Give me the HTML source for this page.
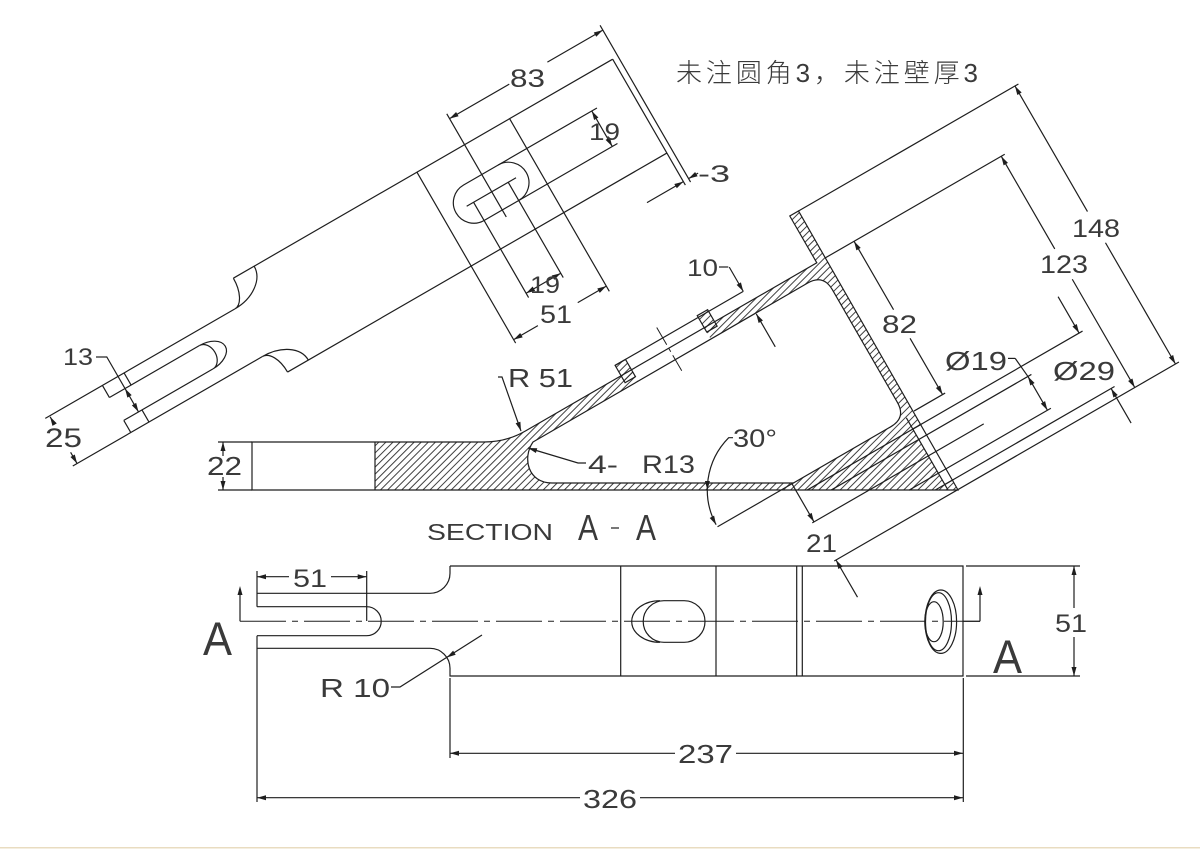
<!DOCTYPE html>
<html><head><meta charset="utf-8"><style>
html,body{margin:0;padding:0;background:#fff;width:1200px;height:850px;overflow:hidden;position:relative;}
svg{display:block;position:absolute;left:0;top:0;overflow:hidden;}
text{font-family:"Liberation Sans","DejaVu Sans",sans-serif;fill:#3a3a3a;}
</style></head><body><svg width="1200" height="850" viewBox="0 0 1200 850" xmlns="http://www.w3.org/2000/svg">
<defs>
<pattern id="h" patternUnits="userSpaceOnUse" width="5" height="5" patternTransform="rotate(45)">
<line x1="0.5" y1="0" x2="0.5" y2="5" stroke="#2a2a2a" stroke-width="0.9"/>
</pattern>
<pattern id="h2" patternUnits="userSpaceOnUse" width="5" height="5" patternTransform="rotate(75)">
<line x1="0.5" y1="0" x2="0.5" y2="5" stroke="#2a2a2a" stroke-width="0.9"/>
</pattern>
</defs>
<rect x="0" y="0" width="1200" height="850" fill="#fff"/>

<path d="M375 442 L484 442 Q506.4 442 525.4 431 L816.8 262.8 L789.8 216 L798.5 211 L958 490 L375 490 Z M533 442 L807.7 283 Q823.3 274 832.3 289.6 L897.3 402.2 Q906.3 417.8 890.7 426.8 L793.4 483 L552 483 C528 483 522 458 533 442 Z M631.5 369.8 L704.2 327.8 L710.7 339 L638 381 Z" fill="url(#h)" fill-rule="evenodd" stroke="none"/>

<!-- section rotated features -->
<g transform="matrix(0.866 -0.5 0.5 0.866 0 0)" fill="none" stroke="#1e1e1e" stroke-width="1.2">
  <rect x="576" y="828" width="10" height="64" fill="#fff" stroke="none"/>
  <rect x="350" y="624" width="12" height="20" fill="url(#h2)"/>
  <rect x="446" y="622" width="12" height="19" fill="url(#h2)"/>
  <path d="M576 815 L576 898 M576 828 L586 828 M576 892 L586 892"/>
  <path d="M350 624 L498 624"/>
  <path d="M405 612 L405 662" stroke-dasharray="20 4 4 4" stroke-width="1"/>
  <path d="M586 582 L840 582 M586 636 L793 636 M586 813 L622 813 M454 828 L772 828 M475 840 L706 840 M442 859 L640 859 M542 879 L706 879 M565 892 L772 892 M442 903 L840 903 M358 815 L446 815"/>
  <path d="M498 596 L498 624 M498 650 L498 688 M619 636 L619 715 M619 748 L619 813 M789 636 L789 743 M789 778 L789 903 M836 582 L836 727 M836 763 L836 903 M702 840 L702 879 M702 840 L700 818 M768 786 L768 828 M768 892 L768 932 M444 815 L444 859 M444 903 L444 946"/>
</g>

<!-- top view rotated features -->
<g transform="matrix(0.866 -0.5 0.5 0.866 0 0)" fill="none" stroke="#1e1e1e" stroke-width="1.2">
  <path d="M63 357.6 L501 357.6 M63 466 L501 466 M501 357.6 L501 503 M507 322 L507 503"/>
  <path d="M275 357.6 L275 555 M382 357.6 L382 557 M330 322 L330 441"/>
  <path d="M63 357.6 C63 372.7 56.7 385 49 385 M87 357.6 C87 372.7 69.9 385 49 385 M63 466 C63 450.9 56.7 440 49 440 M87 466 C87 450.9 69.9 440 49 440"/>
  <path d="M-170 385 L49 385 M-170 440 L49 440 M-104 385 L-104 399 M-79 385 L-79 399 M-104 399 L0 399 M-103 426 L-103 440 M-82 426 L-82 440 M-103 426 L0 426"/>
  <path d="M0 399 A22 13.5 0 0 1 0 426 M0 399 A10 13.5 0 0 1 0 426"/>
  <rect x="288.5" y="392" width="81" height="41" rx="20.5"/>
  <path d="M301 412 L358 412 M309 412 L309 522 M349 412 L349 522 M349 392 L463 392 M349 433 L463 433"/>
  <path d="M330 327.5 L399 327.5 M443 327.5 L507 327.5 M457 392 L457 433 M309 517 L349 517 M275 551 L303 551 M349 551 L382 551 M459 499 L501 499 M507 499 L518 499 M-86 362 L-86 426 M-165 386 L-165 395 M-165 427 L-165 440"/>
</g>

<!-- top view arrows -->
<g transform="matrix(0.866 -0.5 0.5 0.866 0 0)" fill="#1e1e1e" stroke="none">
  <polygon points="330,327.5 339,325 339,330"/>
  <polygon points="507,327.5 498,325 498,330"/>
  <polygon points="457,392 454.5,401 459.5,401"/>
  <polygon points="457,433 454.5,424 459.5,424"/>
  <polygon points="309,517 318,514.5 318,519.5"/>
  <polygon points="349,517 340,514.5 340,519.5"/>
  <polygon points="275,551 284,548.5 284,553.5"/>
  <polygon points="382,551 373,548.5 373,553.5"/>
  <polygon points="501,499 492,496.5 492,501.5"/>
  <polygon points="507,499 516,496.5 516,501.5"/>
  <polygon points="-86,399 -88.5,408 -83.5,408"/>
  <polygon points="-86,426 -88.5,417 -83.5,417"/>
  <polygon points="-165,386 -167.5,395 -162.5,395"/>
  <polygon points="-165,440 -167.5,431 -162.5,431"/>
</g>

<!-- section arrows -->
<g transform="matrix(0.866 -0.5 0.5 0.866 0 0)" fill="#1e1e1e" stroke="none">
  <polygon points="498,624 495.5,615 500.5,615"/>
  <polygon points="498,650 495.5,659 500.5,659"/>
  <polygon points="619,636 616.5,645 621.5,645"/>
  <polygon points="619,813 616.5,804 621.5,804"/>
  <polygon points="789,636 786.5,645 791.5,645"/>
  <polygon points="789,903 786.5,894 791.5,894"/>
  <polygon points="836,582 833.5,591 838.5,591"/>
  <polygon points="836,903 833.5,894 838.5,894"/>
  <polygon points="702,840 699.5,849 704.5,849"/>
  <polygon points="702,879 699.5,870 704.5,870"/>
  <polygon points="768,828 765.5,819 770.5,819"/>
  <polygon points="768,892 765.5,901 770.5,901"/>
  <polygon points="444,859 441.5,850 446.5,850"/>
  <polygon points="444,903 441.5,912 446.5,912"/>
</g>

<g fill="none" stroke="#1e1e1e" stroke-width="1.2">
  <path d="M252 442 L484 442 Q506.4 442 525.4 431 L816.8 262.8 L789.8 216 L798.5 211 L958 490 L252 490 Z M375 442 L375 490"/>
  <path d="M533 442 L807.7 283 Q823.3 274 832.3 289.6 L897.3 402.2 Q906.3 417.8 890.7 426.8 L793.4 483 L552 483 C528 483 522 458 533 442 Z"/>
  <path d="M218 442 L252 442 M218 490 L252 490 M223 442 L223 456 M223 477 L223 490"/>
  <path d="M498 377 L502 377 L521 431"/>
  <path d="M586 463 L578 463 L528 448"/>
  <path d="M733 437.7 L728.7 437.7 A74 74 0 0 0 716.1 524.7"/>
  <path d="M719 267 L728.3 267"/>
  <path d="M1008 358.4 L1015.2 358.4"/>
  <path d="M96 357 L106.7 357"/>
  <path d="M611 528 L619 528"/>

  <path d="M450 566 L963 566 L963 676 L450 676 L450 668.3 A20 20 0 0 0 430 648.3 L257 648.3 M450 566 L450 573.3 A20 20 0 0 1 430 593.3 L257 593.3"/>
  <path d="M257 606.7 L366.7 606.7 A14.5 14.5 0 0 1 366.7 635.7 L257 635.7"/>
  <path d="M257 571 L257 606.7 M257 635.7 L257 802"/>
  <path d="M257 576.7 L289 576.7 M331 576.7 L366.7 576.7 M366.7 571 L366.7 621"/>
  <path d="M620.7 566 L620.7 676 M716 566 L716 676 M796.7 566 L796.7 676 M802.3 566 L802.3 676"/>
  <path d="M664 600.7 L684.2 600.7 A20.8 20.8 0 0 1 684.2 642.3 L664 642.3 A20.8 20.8 0 0 1 664 600.7 Z"/>
  <path d="M660 600.7 A28.3 20.8 0 0 0 660 642.3"/>
  <ellipse cx="940.8" cy="621.7" rx="15.8" ry="31.7"/>
  <ellipse cx="938.5" cy="621.7" rx="13" ry="29"/>
  <ellipse cx="934" cy="621.7" rx="9.2" ry="20"/>
  <path d="M240 621.3 L980 621.3" stroke-dasharray="46 6 6 6" stroke-width="1"/>
  <path d="M240 621.3 L240 594 M980 621.3 L980 594 M963 621.3 L980 621.3"/>
  <path d="M966 566 L1080 566 M966 676 L1080 676 M1074 566 L1074 608 M1074 637 L1074 676"/>
  <path d="M450 678 L450 758 M450 753.3 L675 753.3 M736 753.3 L963 753.3 M963.3 678 L963.3 802"/>
  <path d="M257 797.7 L580 797.7 M640 797.7 L963 797.7"/>
  <path d="M391 687 L400 687 L482 635"/>
</g>

<g fill="#1e1e1e" stroke="none">
  <polygon points="223,442 220.5,451 225.5,451"/>
  <polygon points="223,490 220.5,481 225.5,481"/>
  <polygon points="521,431 515.6,423.3 520.4,421.7"/>
  <polygon points="528,448 537.3,448.2 535.9,453"/>
  <polygon points="707.4,490 704.9,481 709.9,481"/>
  <polygon points="716.1,524.7 714.1,515.6 709.7,518"/>
  <polygon points="257,576.7 266,574.2 266,579.2"/>
  <polygon points="366.7,576.7 357.7,574.2 357.7,579.2"/>
  <polygon points="240,586 237.5,595 242.5,595"/>
  <polygon points="980,586 977.5,595 982.5,595"/>
  <polygon points="1074,566 1071.5,575 1076.5,575"/>
  <polygon points="1074,676 1071.5,667 1076.5,667"/>
  <polygon points="450,753.3 459,750.8 459,755.8"/>
  <polygon points="963,753.3 954,750.8 954,755.8"/>
  <polygon points="257,797.7 266,795.2 266,800.2"/>
  <polygon points="963,797.7 954,795.2 954,800.2"/>
  <polygon points="446.8,657.5 455.7,654.8 453.1,650.6"/>
</g>

<text x="676" y="82" font-size="26" textLength="302" lengthAdjust="spacing" style="font-family:'Liberation Sans','Noto Sans CJK SC',sans-serif;font-weight:300">未注圆角3，未注壁厚3</text>
<text x="510" y="87" font-size="25" textLength="35" lengthAdjust="spacingAndGlyphs">83</text>
<text x="589" y="140" font-size="24" textLength="31" lengthAdjust="spacingAndGlyphs">19</text>
<text x="698" y="182" font-size="24" textLength="32" lengthAdjust="spacingAndGlyphs">-3</text>
<text x="530" y="293" font-size="24" textLength="30" lengthAdjust="spacingAndGlyphs">19</text>
<text x="540" y="323" font-size="25" textLength="32" lengthAdjust="spacingAndGlyphs">51</text>
<text x="63" y="365" font-size="24" textLength="30" lengthAdjust="spacingAndGlyphs">13</text>
<text x="45" y="447" font-size="27" textLength="37" lengthAdjust="spacingAndGlyphs">25</text>
<text x="207" y="475" font-size="26" textLength="35" lengthAdjust="spacingAndGlyphs">22</text>
<text x="508" y="387" font-size="26" textLength="65" lengthAdjust="spacingAndGlyphs">R 51</text>
<text x="588" y="473" font-size="25" textLength="30" lengthAdjust="spacingAndGlyphs">4-</text>
<text x="642" y="473" font-size="25" textLength="53" lengthAdjust="spacingAndGlyphs">R13</text>
<text x="687" y="276" font-size="24" textLength="31" lengthAdjust="spacingAndGlyphs">10</text>
<text x="733" y="447" font-size="25" textLength="44" lengthAdjust="spacingAndGlyphs">30°</text>
<text x="882" y="333" font-size="25" textLength="35" lengthAdjust="spacingAndGlyphs">82</text>
<text x="945" y="370" font-size="26" textLength="62" lengthAdjust="spacingAndGlyphs">Ø19</text>
<text x="1053" y="380" font-size="26" textLength="62" lengthAdjust="spacingAndGlyphs">Ø29</text>
<text x="1040" y="273" font-size="25" textLength="48" lengthAdjust="spacingAndGlyphs">123</text>
<text x="1072" y="237" font-size="25" textLength="48" lengthAdjust="spacingAndGlyphs">148</text>
<text x="806" y="552" font-size="25" textLength="31" lengthAdjust="spacingAndGlyphs">21</text>
<text x="427" y="540" font-size="23" textLength="126" lengthAdjust="spacingAndGlyphs">SECTION</text>
<text x="578" y="540" font-size="36" textLength="20" lengthAdjust="spacingAndGlyphs">A</text>
<text x="636" y="540" font-size="36" textLength="20" lengthAdjust="spacingAndGlyphs">A</text>
<text x="293" y="587" font-size="25" textLength="34" lengthAdjust="spacingAndGlyphs">51</text>
<text x="203" y="655" font-size="47" textLength="29" lengthAdjust="spacingAndGlyphs">A</text>
<text x="320" y="697" font-size="26" textLength="70" lengthAdjust="spacingAndGlyphs">R 10</text>
<text x="993" y="673" font-size="47" textLength="29" lengthAdjust="spacingAndGlyphs">A</text>
<text x="1055" y="632" font-size="25" textLength="32" lengthAdjust="spacingAndGlyphs">51</text>
<text x="678" y="763" font-size="26" textLength="55" lengthAdjust="spacingAndGlyphs">237</text>
<text x="583" y="808" font-size="26" textLength="54" lengthAdjust="spacingAndGlyphs">326</text>

<rect x="0" y="847" width="1200" height="1.5" fill="#e9dcc0"/>
</svg></body></html>
